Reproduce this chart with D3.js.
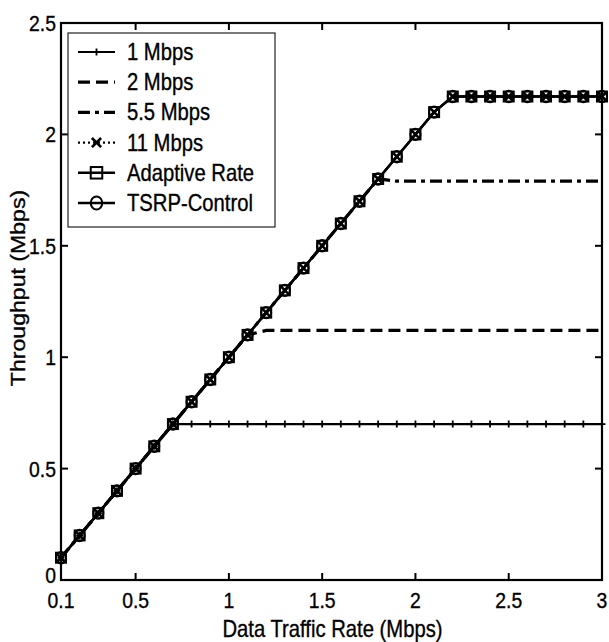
<!DOCTYPE html>
<html>
<head>
<meta charset="utf-8">
<script src="https://cdn.jsdelivr.net/npm/d3@7"></script>
<style>
  body { margin: 0; background: #fff; }
  text { font-family: "Liberation Sans", Arial, sans-serif; fill: #000; }
</style>
</head>
<body>
<svg id="chart" width="609" height="642"></svg>
<script>
// data traffic rate (Mbps) on the x axis
var rates = [0.1, 0.2, 0.3, 0.4, 0.5, 0.6, 0.7, 0.8, 0.9, 1.0,
             1.1, 1.2, 1.3, 1.4, 1.5, 1.6, 1.7, 1.8, 1.9, 2.0,
             2.1, 2.2, 2.3, 2.4, 2.5, 2.6, 2.7, 2.8, 2.9, 3.0]

// throughput (Mbps) per scheme
var mbps1 = [0.1, 0.2, 0.3, 0.4, 0.5, 0.6, 0.7, 0.7, 0.7, 0.7,
             0.7, 0.7, 0.7, 0.7, 0.7, 0.7, 0.7, 0.7, 0.7, 0.7,
             0.7, 0.7, 0.7, 0.7, 0.7, 0.7, 0.7, 0.7, 0.7, 0.7]
var mbps2 = [0.1, 0.2, 0.3, 0.4, 0.5, 0.6, 0.7, 0.8, 0.9, 1.0,
             1.1, 1.12, 1.12, 1.12, 1.12, 1.12, 1.12, 1.12, 1.12, 1.12,
             1.12, 1.12, 1.12, 1.12, 1.12, 1.12, 1.12, 1.12, 1.12, 1.12]
var mbps55 = [0.1, 0.2, 0.3, 0.4, 0.5, 0.6, 0.7, 0.8, 0.9, 1.0,
              1.1, 1.2, 1.3, 1.4, 1.5, 1.6, 1.7, 1.8, 1.79, 1.79,
              1.79, 1.79, 1.79, 1.79, 1.79, 1.79, 1.79, 1.79, 1.79, 1.79]
var mbps11 = [0.1, 0.2, 0.3, 0.4, 0.5, 0.6, 0.7, 0.8, 0.9, 1.0,
              1.1, 1.2, 1.3, 1.4, 1.5, 1.6, 1.7, 1.8, 1.9, 2.0,
              2.1, 2.17, 2.17, 2.17, 2.17, 2.17, 2.17, 2.17, 2.17, 2.17]
var adaptive = [0.1, 0.2, 0.3, 0.4, 0.5, 0.6, 0.7, 0.8, 0.9, 1.0,
                1.1, 1.2, 1.3, 1.4, 1.5, 1.6, 1.7, 1.8, 1.9, 2.0,
                2.1, 2.17, 2.17, 2.17, 2.17, 2.17, 2.17, 2.17, 2.17, 2.17]
var tsrp = [0.1, 0.2, 0.3, 0.4, 0.5, 0.6, 0.7, 0.8, 0.9, 1.0,
            1.1, 1.2, 1.3, 1.4, 1.5, 1.6, 1.7, 1.8, 1.9, 2.0,
            2.1, 2.17, 2.17, 2.17, 2.17, 2.17, 2.17, 2.17, 2.17, 2.17]

var seriesNames = ['1 Mbps', '2 Mbps', '5.5 Mbps', '11 Mbps', 'Adaptive Rate', 'TSRP-Control']
var xTicks = [0.1, 0.5, 1, 1.5, 2, 2.5, 3]
var yTicks = [0, 0.5, 1, 1.5, 2, 2.5]

var series = [
  {name: seriesNames[0], values: mbps1, dash: null, width: 2.2, marker: 'plus'},
  {name: seriesNames[1], values: mbps2, dash: '12,6', width: 3.2, marker: null},
  {name: seriesNames[2], values: mbps55, dash: '12,5,4,5', width: 3.2, marker: null},
  {name: seriesNames[3], values: mbps11, dash: '2,3', width: 2.2, marker: 'cross'},
  {name: seriesNames[4], values: adaptive, dash: null, width: 2.4, marker: 'square'},
  {name: seriesNames[5], values: tsrp, dash: null, width: 2.4, marker: 'circle'}
]

var svg = d3.select('#chart')
var plotL = 61, plotR = 602, plotT = 23, plotB = 580

var x = d3.scaleLinear().domain([0.1, 3]).range([plotL, plotR])
var y = d3.scaleLinear().domain([0, 2.5]).range([plotB, plotT])

// text in the original is a little narrow and tall
function label(g, tx, ty, str, size, anchor, rot, sx) {
  return g.append('text')
    .attr('transform', 'translate(' + tx + ',' + ty + ')' + (rot ? ' rotate(' + rot + ')' : '') +
          ' scale(' + (sx || 0.88) + ',1)')
    .attr('font-size', size)
    .attr('text-anchor', anchor)
    .attr('stroke', '#000').attr('stroke-width', 0.35)
    .text(str)
}

function drawMarker(g, type, cx, cy, big) {
  var s = big ? 1.15 : 1
  if (type === 'square') {
    g.append('rect').attr('x', cx - 5 * s).attr('y', cy - 5 * s)
      .attr('width', 10 * s).attr('height', 10 * s)
      .attr('fill', 'none').attr('stroke', '#000').attr('stroke-width', 2)
  } else if (type === 'circle') {
    g.append('ellipse').attr('cx', cx).attr('cy', cy).attr('rx', 5 * s).attr('ry', 5.7 * s)
      .attr('fill', 'none').attr('stroke', '#000').attr('stroke-width', 2)
  } else if (type === 'cross') {
    var r = 4 * s
    g.append('path')
      .attr('d', 'M' + (cx - r) + ',' + (cy - r) + 'L' + (cx + r) + ',' + (cy + r) +
                 'M' + (cx - r) + ',' + (cy + r) + 'L' + (cx + r) + ',' + (cy - r))
      .attr('stroke', '#000').attr('stroke-width', 2.6)
  } else if (type === 'plus') {
    var p = 3.5
    g.append('path')
      .attr('d', 'M' + (cx - p) + ',' + cy + 'L' + (cx + p) + ',' + cy +
                 'M' + cx + ',' + (cy - p) + 'L' + cx + ',' + (cy + p))
      .attr('stroke', '#000').attr('stroke-width', 1.8)
  }
}

var line = d3.line()
  .x(function(d, i) { return x(rates[i]) })
  .y(function(d) { return y(d) })

var plot = svg.append('g').attr('class', 'plot')

series.forEach(function(s) {
  plot.append('path')
    .datum(s.values)
    .attr('d', line)
    .attr('fill', 'none')
    .attr('stroke', '#000')
    .attr('stroke-width', s.width)
    .attr('stroke-dasharray', s.dash)
})

// markers drawn after all lines so they sit on top
series.forEach(function(s) {
  if (!s.marker) return
  var mg = plot.append('g')
  s.values.forEach(function(v, i) {
    drawMarker(mg, s.marker, x(rates[i]), y(v), false)
  })
})

// axes box with inward ticks on all sides
var axes = svg.append('g')
axes.append('rect')
  .attr('x', plotL).attr('y', plotT)
  .attr('width', plotR - plotL).attr('height', plotB - plotT)
  .attr('fill', 'none').attr('stroke', '#000').attr('stroke-width', 2.2)

var tickLen = 7
xTicks.forEach(function(t) {
  axes.append('line').attr('x1', x(t)).attr('x2', x(t)).attr('y1', plotB).attr('y2', plotB - tickLen)
    .attr('stroke', '#000').attr('stroke-width', 2)
  axes.append('line').attr('x1', x(t)).attr('x2', x(t)).attr('y1', plotT).attr('y2', plotT + tickLen)
    .attr('stroke', '#000').attr('stroke-width', 2)
  label(axes, x(t), plotB + 28, d3.format('~g')(t), 22, 'middle')
})
yTicks.forEach(function(t) {
  axes.append('line').attr('x1', plotL).attr('x2', plotL + tickLen).attr('y1', y(t)).attr('y2', y(t))
    .attr('stroke', '#000').attr('stroke-width', 2)
  axes.append('line').attr('x1', plotR).attr('x2', plotR - tickLen).attr('y1', y(t)).attr('y2', y(t))
    .attr('stroke', '#000').attr('stroke-width', 2)
  label(axes, plotL - 5, y(t) + (t === 0 ? 3 : 8), d3.format('~g')(t), 22, 'end')
})

label(axes, (plotL + plotR) / 2 + 1, 637, 'Data Traffic Rate (Mbps)', 23, 'middle')
label(axes, 25, 288, 'Throughput (Mbps)', 21, 'middle', -90, 1.1)

// legend
var lg = svg.append('g')
lg.append('rect')
  .attr('x', 68).attr('y', 33).attr('width', 207).attr('height', 194)
  .attr('fill', '#fff').attr('stroke', '#222').attr('stroke-width', 1.2)

series.forEach(function(s, i) {
  var ly = 52 + i * 30.2
  lg.append('line').attr('x1', 78).attr('x2', 115).attr('y1', ly).attr('y2', ly)
    .attr('stroke', '#000').attr('stroke-width', s.width).attr('stroke-dasharray', s.dash)
  if (s.marker) drawMarker(lg, s.marker, 96.5, ly, true)
  label(lg, 127, ly + 8, s.name, 23, 'start')
})
</script>
</body>
</html>
